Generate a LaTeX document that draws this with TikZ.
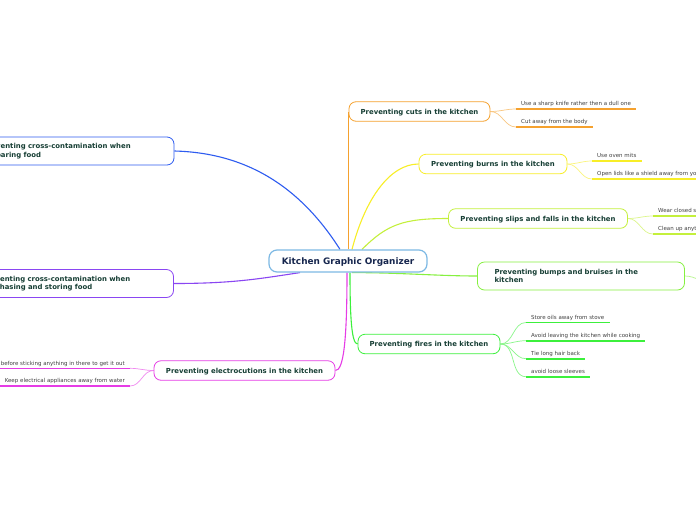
\documentclass[tikz,border=0pt]{standalone}
\usepackage{fontspec}
\setmainfont{DejaVu Sans}
\usetikzlibrary{backgrounds}
\definecolor{cOr}{RGB}{245,161,46}
\definecolor{cYe}{RGB}{248,238,40}
\definecolor{cLi}{RGB}{196,240,60}
\definecolor{cBu}{RGB}{134,240,64}
\definecolor{cFi}{RGB}{60,240,60}
\definecolor{cMa}{RGB}{230,60,230}
\definecolor{cBl}{RGB}{46,92,240}
\definecolor{cPu}{RGB}{138,70,242}
\definecolor{mainb}{RGB}{125,185,228}
\definecolor{maintxt}{RGB}{22,38,78}
\definecolor{txt}{RGB}{22,62,52}
\definecolor{leaftxt}{RGB}{65,65,65}
\tikzset{
  mainbox/.style={draw=mainb, line width=1.2pt, rounded corners=8pt, fill=white,
    minimum width=158pt, minimum height=22pt, inner sep=0pt, text=maintxt,
    text height=6.5pt, text depth=0pt,
    font=\bfseries\fontsize{8.9}{10}\selectfont},
  topic/.style={draw, rounded corners=7pt, fill=white, line width=0.8pt, text=txt,
    inner sep=0pt, minimum height=19.5pt, text height=5pt, text depth=0pt,
    font=\bfseries\fontsize{6.9}{8.7}\selectfont},
  topic2/.style={draw, rounded corners=7pt, fill=white, line width=0.8pt, text=txt,
    inner ysep=0pt, minimum height=28pt, align=left,
    font=\bfseries\fontsize{6.9}{8.7}\selectfont},
  leaf/.style={font=\fontsize{5.5}{6.5}\selectfont, text=leaftxt, inner xsep=5pt,
    inner ysep=0pt, text height=4pt, text depth=3pt},
  conn/.style={line width=1.1pt},
  sub/.style={line width=0.7pt},
  ul/.style={line width=1.6pt},
}
\begin{document}
\begin{tikzpicture}[x=1pt,y=-1pt]
\useasboundingbox (0,0) rectangle (696,520);
% main
\node[mainbox] (main) at (348,261) {Kitchen Graphic Organizer};
% topics
\node[topic, draw=cOr, minimum width=141pt] (cuts) at (419.5,111.5) {Preventing cuts in the kitchen};
\node[topic, draw=cYe, minimum width=148pt] (burns) at (493,164) {Preventing burns in the kitchen};
\node[topic, draw=cLi, minimum width=179pt] (slips) at (538,218.5) {Preventing slips and falls in the kitchen};
\node[topic2, draw=cBu, inner xsep=17pt, text width=173pt] (bumps) at (581,276) {Preventing bumps and bruises in the\\kitchen};
\node[topic, draw=cFi, minimum width=142pt] (fires) at (429,344) {Preventing fires in the kitchen};
\node[topic, draw=cMa, minimum width=181pt] (elec) at (244.5,370.5) {Preventing electrocutions in the kitchen};
\node[topic2, draw=cBl, inner xsep=15pt, text width=176pt] (prep) at (71,151) {Preventing cross-contamination when\\preparing food};
\node[topic2, draw=cPu, inner xsep=15pt, text width=176pt] (purch) at (70.5,283.5) {Preventing cross-contamination when\\purchasing and storing food};
% leaves
\node[leaf, anchor=south west] (c1) at (516,109) {Use a sharp knife rather then a dull one};
\node[leaf, anchor=south west] (c2) at (516,127) {Cut away from the body};
\node[leaf, anchor=south west] (b1) at (592,161) {Use oven mits};
\node[leaf, anchor=south west] (b2) at (592,179) {Open lids like a shield away from your face};
\node[leaf, anchor=south west] (s1) at (653,216) {Wear closed shoes};
\node[leaf, anchor=south west] (s2) at (653,234) {Clean up anything spilled};
\node[leaf, anchor=south west] (f1) at (526,322.5) {Store oils away from stove};
\node[leaf, anchor=south west] (f2) at (526,340.7) {Avoid leaving the kitchen while cooking};
\node[leaf, anchor=south west] (f3) at (526,358.7) {Tie long hair back};
\node[leaf, anchor=south west] (f4) at (526,376.7) {avoid loose sleeves};
\node[leaf, anchor=south east] (e1) at (130,368.3) {Unplug appliances before sticking anything in there to get it out};
\node[leaf, anchor=south east] (e2) at (130,386) {Keep electrical appliances away from water};
\coordinate (bx) at (712,283);
\begin{scope}[on background layer]
\fill[white] (0,0) rectangle (696,520);
% main connectors
\draw[conn, cOr] (cuts.west |- main.north) -- (cuts.west);
\draw[conn, cYe] ([xshift=4pt]main.north) .. controls +(13,-50) and +(-29,0) .. (burns.west);
\draw[conn, cLi] ([xshift=14pt]main.north) .. controls +(25,-25) and +(-45,0) .. (slips.west);
\draw[conn, cBu] ([xshift=4pt]main.south) .. controls +(48,0) and +(-38,0) .. (bumps.west);
\draw[conn, cFi] ([xshift=2pt]main.south) .. controls +(0,45) and +(-6,0) .. (fires.west);
\draw[conn, cMa] ([xshift=-1pt]main.south) .. controls +(0,70) and +(8,0) .. (elec.east);
\draw[conn, cBl] (prep.east) .. controls +(80,2) and +(-35,-55) .. ([xshift=-8pt]main.north);
\draw[conn, cPu] (purch.east) .. controls +(60,0) and +(-40,6) .. ([xshift=-48pt]main.south);
% leaf connectors
\foreach \t/\l/\c in {cuts/c1/cOr, cuts/c2/cOr, burns/b1/cYe, burns/b2/cYe, slips/s1/cLi, slips/s2/cLi, fires/f1/cFi, fires/f2/cFi, fires/f3/cFi, fires/f4/cFi}
  \draw[sub, draw=\c!60] (\t.east) to[out=0,in=180] (\l.south west);
\foreach \l in {e1,e2}
  \draw[sub, draw=cMa!60] (elec.west) to[out=180,in=0] (\l.south east);
\draw[sub, draw=cBu!60] (bumps.east) to[out=0,in=180] (bx);
\end{scope}
% underlines
\foreach \l/\c in {c1/cOr, c2/cOr, b1/cYe, b2/cYe, s1/cLi, s2/cLi, f1/cFi, f2/cFi, f3/cFi, f4/cFi, e1/cMa, e2/cMa}
  \draw[ul, draw=\c] (\l.south west) -- (\l.south east);
\end{tikzpicture}
\end{document}
